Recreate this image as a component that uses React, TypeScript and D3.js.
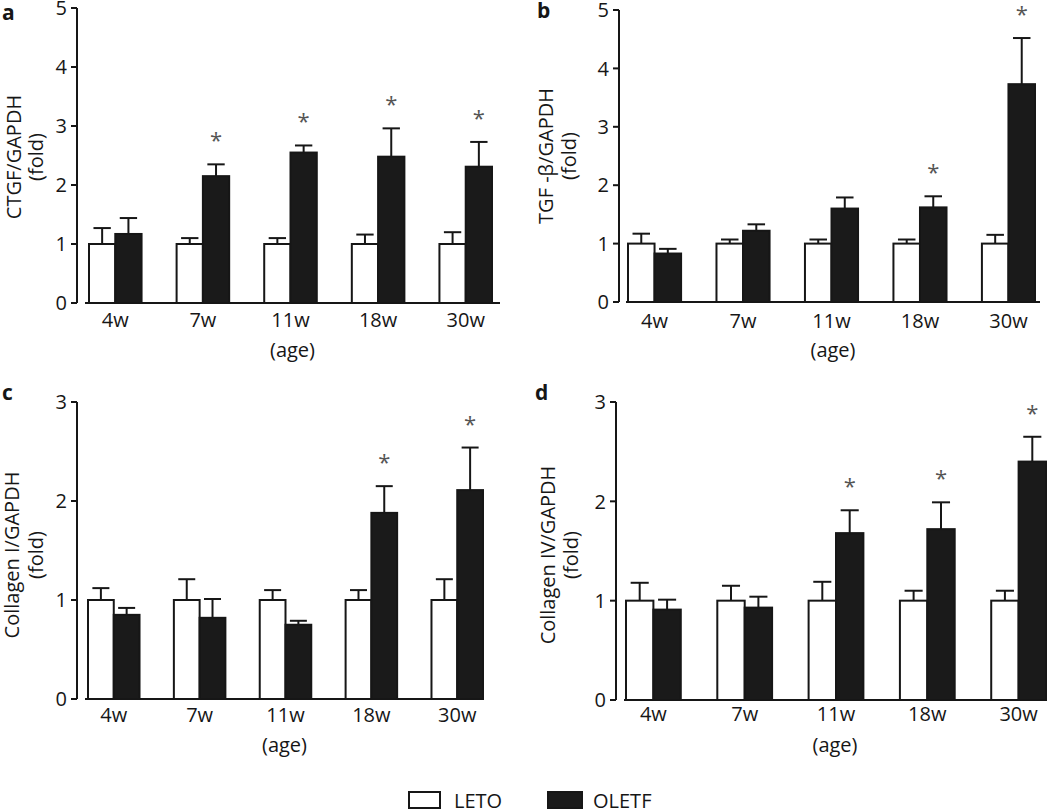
import React from "react";
import * as d3 from "d3";

const ages = ["4w", "7w", "11w", "18w", "30w"];
const series = ["LETO", "OLETF"];

// Panel a: CTGF/GAPDH
const ctgfLeto = [1, 1, 1, 1, 1];
const ctgfLetoErr = [0.27, 0.1, 0.1, 0.16, 0.2];
const ctgfOletf = [1.17, 2.15, 2.55, 2.48, 2.31];
const ctgfOletfErr = [0.27, 0.2, 0.12, 0.48, 0.42];
const ctgfSig = [false, true, true, true, true];

// Panel b: TGF-β/GAPDH
const tgfLeto = [1, 1, 1, 1, 1];
const tgfLetoErr = [0.17, 0.07, 0.07, 0.07, 0.15];
const tgfOletf = [0.83, 1.22, 1.6, 1.62, 3.73];
const tgfOletfErr = [0.08, 0.11, 0.19, 0.19, 0.79];
const tgfSig = [false, false, false, true, true];

// Panel c: Collagen I/GAPDH
const col1Leto = [1, 1, 1, 1, 1];
const col1LetoErr = [0.12, 0.21, 0.1, 0.1, 0.21];
const col1Oletf = [0.85, 0.82, 0.75, 1.88, 2.11];
const col1OletfErr = [0.07, 0.19, 0.04, 0.27, 0.43];
const col1Sig = [false, false, false, true, true];

// Panel d: Collagen IV/GAPDH
const col4Leto = [1, 1, 1, 1, 1];
const col4LetoErr = [0.18, 0.15, 0.19, 0.1, 0.1];
const col4Oletf = [0.91, 0.93, 1.68, 1.72, 2.4];
const col4OletfErr = [0.1, 0.11, 0.23, 0.27, 0.25];
const col4Sig = [false, false, true, true, true];

const FONT = "'Open Sans', 'Noto Sans', sans-serif";
const INK = "#161616";

type Layout = {
  ax: number; y0: number; y1: number; xa0: number; xa1: number; bx0: number; bx1: number;
  lblX1: number; lblX2: number; lblY: number; tickBase: number; ageBase: number;
  letterX: number; letterY: number;
};

const panels = [
  {
    letter: "a", label: ["CTGF/GAPDH", "(fold)"], yMax: 5,
    leto: ctgfLeto, letoErr: ctgfLetoErr, oletf: ctgfOletf, oletfErr: ctgfOletfErr, sig: ctgfSig,
    L: { ax: 77, y0: 303, y1: 8, xa0: 85, xa1: 500, bx0: 89, bx1: 492, lblX1: 21, lblX2: 43, lblY: 157, tickBase: 327, ageBase: 357, letterX: 2, letterY: 20 } as Layout,
  },
  {
    letter: "b", label: ["TGF -β/GAPDH", "(fold)"], yMax: 5,
    leto: tgfLeto, letoErr: tgfLetoErr, oletf: tgfOletf, oletfErr: tgfOletfErr, sig: tgfSig,
    L: { ax: 619, y0: 302, y1: 10, xa0: 626, xa1: 1040, bx0: 628, bx1: 1035, lblX1: 553, lblX2: 576, lblY: 156, tickBase: 328, ageBase: 357, letterX: 537, letterY: 18 } as Layout,
  },
  {
    letter: "c", label: ["Collagen I/GAPDH", "(fold)"], yMax: 3,
    leto: col1Leto, letoErr: col1LetoErr, oletf: col1Oletf, oletfErr: col1OletfErr, sig: col1Sig,
    L: { ax: 77, y0: 699, y1: 402, xa0: 85, xa1: 484, bx0: 88, bx1: 483, lblX1: 19, lblX2: 43, lblY: 555, tickBase: 722, ageBase: 752, letterX: 2, letterY: 400 } as Layout,
  },
  {
    letter: "d", label: ["Collagen IV/GAPDH", "(fold)"], yMax: 3,
    leto: col4Leto, letoErr: col4LetoErr, oletf: col4Oletf, oletfErr: col4OletfErr, sig: col4Sig,
    L: { ax: 616, y0: 700, y1: 402, xa0: 624, xa1: 1046, bx0: 626, bx1: 1046, lblX1: 555, lblX2: 578, lblY: 555, tickBase: 721, ageBase: 752, letterX: 535, letterY: 400 } as Layout,
  },
];

function Panel({ p }: { p: any }) {
  const L: Layout = p.L;
  const y = d3.scaleLinear().domain([0, p.yMax]).range([L.y0, L.y1]);
  const x = d3.scaleBand().domain(ages).range([L.bx0, L.bx1]).paddingInner(0.4).paddingOuter(0);
  const xs = d3.scaleBand().domain(series).range([0, x.bandwidth()]);
  const bw = xs.bandwidth();
  const cap = bw * 0.66;
  const ticks = d3.range(0, p.yMax + 1);
  const vals: Record<string, number[]> = { LETO: p.leto, OLETF: p.oletf };
  const errs: Record<string, number[]> = { LETO: p.letoErr, OLETF: p.oletfErr };

  return (
    <g fontFamily={FONT} fill={INK}>
      <text x={L.letterX} y={L.letterY} fontSize={21} fontWeight="bold">{p.letter}</text>
      {/* y axis */}
      <line x1={L.ax} x2={L.ax} y1={y(0)} y2={y(p.yMax)} stroke={INK} strokeWidth={2} />
      {ticks.map((t) => (
        <g key={t}>
          <line x1={L.ax - 6} x2={L.ax} y1={y(t)} y2={y(t)} stroke={INK} strokeWidth={2} />
          <text x={L.ax - 10} y={y(t)} dy="0.36em" textAnchor="end" fontSize={20}>{t}</text>
        </g>
      ))}
      {/* x axis */}
      <line x1={L.xa0} x2={L.xa1} y1={y(0)} y2={y(0)} stroke={INK} strokeWidth={2} />
      {ages.map((a) => (
        <text key={a} x={(x(a) as number) + x.bandwidth() / 2} y={L.tickBase} textAnchor="middle" fontSize={20}>{a}</text>
      ))}
      <text x={(L.xa0 + L.xa1) / 2} y={L.ageBase} textAnchor="middle" fontSize={20}>(age)</text>
      {/* y label */}
      <text transform={`translate(${L.lblX1},${L.lblY}) rotate(-90)`} textAnchor="middle" fontSize={20}>{p.label[0]}</text>
      <text transform={`translate(${L.lblX2},${L.lblY}) rotate(-90)`} textAnchor="middle" fontSize={20}>{p.label[1]}</text>
      {/* bars */}
      {ages.map((a, i) => (
        <g key={a}>
          {series.map((s) => {
            const bx = (x(a) as number) + (xs(s) as number);
            const v = vals[s][i];
            const e = errs[s][i];
            const cx = bx + bw / 2;
            return (
              <g key={s}>
                <line x1={cx} x2={cx} y1={y(v)} y2={y(v + e)} stroke={INK} strokeWidth={2} />
                <line x1={cx - cap / 2} x2={cx + cap / 2} y1={y(v + e)} y2={y(v + e)} stroke={INK} strokeWidth={2} />
                <rect x={bx} y={y(v)} width={bw} height={y(0) - y(v)} fill={s === "LETO" ? "#ffffff" : "#1a1a1a"} stroke={INK} strokeWidth={2} />
                {s === "OLETF" && p.sig[i] && (
                  <text x={cx} y={y(v + e) - 28 + 12} textAnchor="middle" fontSize={22} fill="#555">*</text>
                )}
              </g>
            );
          })}
        </g>
      ))}
    </g>
  );
}

export default function App() {
  return (
    <svg width={1050} height={811} style={{ position: "absolute", left: 0, top: 0, background: "#fff" }}>
      <rect x={0} y={0} width={1050} height={811} fill="#fff" />
      {panels.map((p) => (
        <Panel key={p.letter} p={p} />
      ))}
      <g fontFamily={FONT} fill={INK} fontSize={20}>
        <rect x={409} y={792} width={31} height={16} fill="#fff" stroke={INK} strokeWidth={2} />
        <text x={454} y={808}>{series[0]}</text>
        <rect x={548} y={792} width={34} height={16} fill="#1a1a1a" stroke={INK} strokeWidth={2} />
        <text x={593} y={808}>{series[1]}</text>
      </g>
    </svg>
  );
}
